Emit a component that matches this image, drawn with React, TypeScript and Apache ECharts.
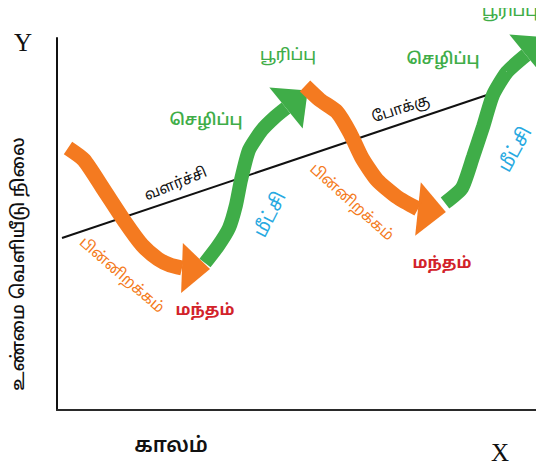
import React, { useEffect, useRef } from "react";
import * as echarts from "echarts";

// Coordinates in chart units (time on x, output level on y)
const trendLine: number[][] = [
  [5, 172],
  [430, 315],
];
const contraction1: number[][] = [
  [11, 262], [27, 250], [47, 220], [68, 188], [85, 165], [101, 151], [113, 145], [125, 142],
];
const expansion1: number[][] = [
  [148, 147], [161, 164], [172, 182], [179, 205], [184, 230], [192, 260], [205, 280], [218, 293], [229, 302],
];
const contraction2: number[][] = [
  [248, 324], [263, 310], [280, 298], [293, 277], [305, 252], [320, 230], [340, 213], [361, 201],
];
const expansion2: number[][] = [
  [388, 207], [405, 222], [416, 253], [426, 283], [436, 315], [450, 338], [469, 355],
];
// direction of each arrow head (degrees, counter-clockwise from the time axis)
const headAngles = [-2, 39, -6, 39];

const xTitle = "காலம்";
const yTitle = "உண்மை வெளியீடு நிலை";
const trendTexts = ["வளர்ச்சி", "போக்கு"];
const phaseTexts = {
  peak: "பூரிப்பு",
  prosperity: "செழிப்பு",
  recession: "பின்னிறக்கம்",
  depression: "மந்தம்",
  recovery: "மீட்சி",
};

const ORANGE = "#F47A20";
const GREEN = "#3FAD48";
const BLUE = "#27A9E1";
const RED = "#D2232A";
const TAMIL = "'Noto Sans Tamil', 'Lohit Tamil', 'Latha', 'Noto Sans', sans-serif";

function head(shaft: number[][], angle: number, size: number[]) {
  const end = shaft[shaft.length - 1];
  const r = (angle * Math.PI) / 180;
  return {
    value: [end[0] + (size[1] / 2) * Math.cos(r), end[1] + (size[1] / 2) * Math.sin(r)],
    symbolRotate: angle - 90,
    symbolSize: size,
  };
}

function txt(x: number, y: number, text: string, color: string, size: number, weight: string | number, rotDeg = 0) {
  return {
    type: "text",
    x,
    y,
    rotation: (rotDeg * Math.PI) / 180,
    z: 10,
    style: {
      text,
      fill: color,
      font: `${weight} ${size}px ${TAMIL}`,
      textAlign: "center",
      textVerticalAlign: "middle",
    },
  };
}

export default function App() {
  const ref = useRef<HTMLDivElement>(null);
  useEffect(() => {
    if (!ref.current) return;
    const chart = echarts.init(ref.current, undefined, { renderer: "svg" });
    const shaft = (data: number[][], color: string, width: number) => ({
      type: "line",
      data,
      smooth: 0.2,
      symbol: "none",
      silent: true,
      lineStyle: { color, width, cap: "butt" },
    });
    chart.setOption({
      animation: false,
      grid: { left: 57, right: 0, top: 38, bottom: 60 },
      xAxis: {
        type: "value",
        min: 0,
        max: 487,
        axisLine: { show: true, lineStyle: { color: "#2a2a2a", width: 2 } },
        axisTick: { show: false },
        axisLabel: { show: false },
        splitLine: { show: false },
      },
      yAxis: {
        type: "value",
        min: 0,
        max: 372,
        axisLine: { show: true, lineStyle: { color: "#111", width: 2 } },
        axisTick: { show: false },
        axisLabel: { show: false },
        splitLine: { show: false },
      },
      series: [
        {
          type: "line",
          data: trendLine,
          symbol: "none",
          silent: true,
          lineStyle: { color: "#111", width: 2 },
        },
        shaft(contraction1, ORANGE, 15),
        shaft(contraction2, ORANGE, 15),
        shaft(expansion1, GREEN, 14),
        shaft(expansion2, GREEN, 14),
        {
          type: "scatter",
          symbol: "triangle",
          silent: true,
          clip: false,
          itemStyle: { color: ORANGE, opacity: 1 },
          data: [head(contraction1, headAngles[0], [50, 28]), head(contraction2, headAngles[2], [54, 28])],
        },
        {
          type: "scatter",
          symbol: "triangle",
          silent: true,
          clip: false,
          itemStyle: { color: GREEN, opacity: 1 },
          data: [head(expansion1, headAngles[1], [53, 28]), head(expansion2, headAngles[3], [53, 28])],
        },
      ],
      graphic: [
        {
          type: "text",
          x: 23,
          y: 42,
          style: { text: "Y", fill: "#111", font: "25px 'Liberation Serif', serif", textAlign: "center", textVerticalAlign: "middle" },
        },
        {
          type: "text",
          x: 500,
          y: 452,
          style: { text: "X", fill: "#111", font: "25px 'Liberation Serif', serif", textAlign: "center", textVerticalAlign: "middle" },
        },
        txt(171, 447, xTitle, "#111", 21, 600),
        txt(19, 264, yTitle, "#111", 18, 500, 90),
        txt(176, 185, trendTexts[0], "#111", 15, 400, 22),
        txt(401, 110, trendTexts[1], "#111", 15, 400, 18),
        txt(288, 56, phaseTexts.peak, GREEN, 16, 500),
        txt(510, 12, phaseTexts.peak, GREEN, 16, 500),
        txt(206, 121, phaseTexts.prosperity, GREEN, 16, 600),
        txt(443, 60, phaseTexts.prosperity, GREEN, 16, 600),
        txt(121, 276, phaseTexts.recession, ORANGE, 15, 400, -41),
        txt(351, 203, phaseTexts.recession, ORANGE, 15, 400, -42),
        txt(205, 311, phaseTexts.depression, RED, 16, 700),
        txt(442, 264, phaseTexts.depression, RED, 16, 700),
        txt(271, 215, phaseTexts.recovery, BLUE, 19, 400, 63),
        txt(516, 150, phaseTexts.recovery, BLUE, 19, 400, 61),
      ],
    });
    return () => chart.dispose();
  }, []);
  return <div ref={ref} style={{ width: 544, height: 470, margin: -8 }} />;
}
